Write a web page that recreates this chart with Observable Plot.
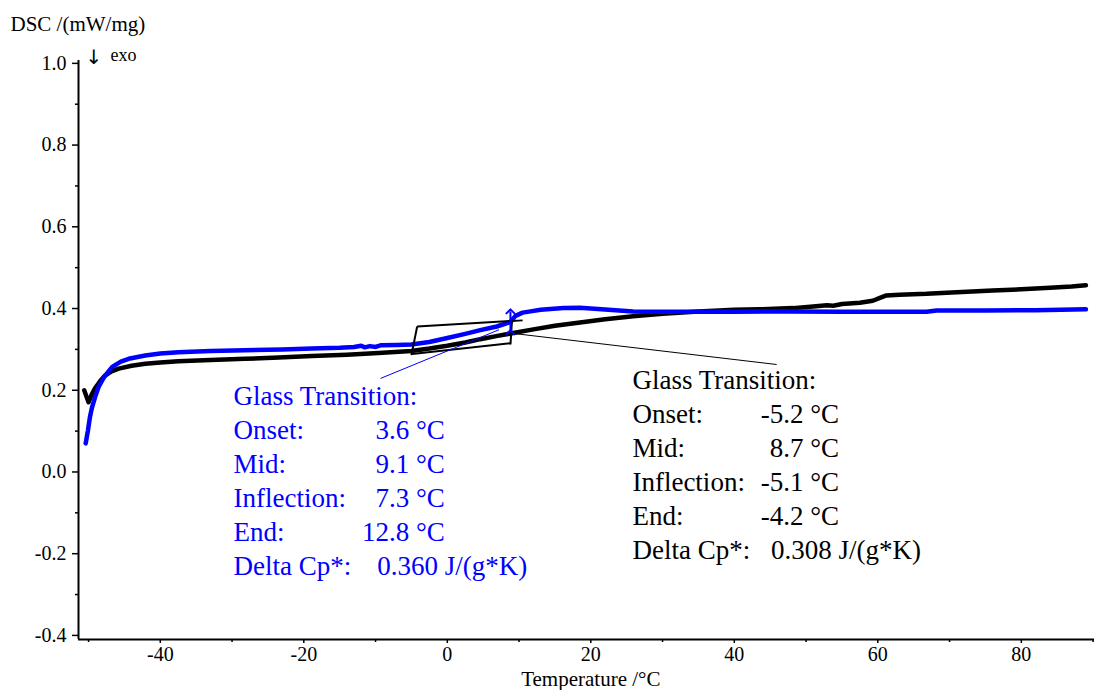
<!DOCTYPE html>
<html><head><meta charset="utf-8">
<script src="https://cdn.jsdelivr.net/npm/d3@7"></script>
<script src="https://cdn.jsdelivr.net/npm/@observablehq/plot@0.6"></script>
<style>html,body{margin:0;padding:0;background:#fff;} svg{display:block;}</style>
</head><body><div id="chart"></div>
<script>
// ---- data ----
const blackTemp = [-50.6,-50.3,-50.0,-49.6,-49.1,-48.4,-47.7,-46.8,-45.8,-44.0,-42.1,-40.0,-37.5,-33.0,-28.2,-23.5,-18.9,-14.0,-9.6,-5.0,-2.5,0.0,2.5,4.6,7.0,9.2,12.0,15.0,18.5,22.0,25.9,30.0,35.0,40.0,43.6,48.2,51.0,52.9,53.8,55.0,57.5,59.3,60.3,61.2,63.0,66.8,71.0,76.0,80.0,84.0,87.0,89.0];
const blackDsc  = [0.200,0.185,0.171,0.188,0.205,0.222,0.236,0.246,0.253,0.260,0.265,0.268,0.271,0.274,0.277,0.280,0.284,0.287,0.291,0.296,0.302,0.309,0.317,0.325,0.333,0.340,0.349,0.358,0.366,0.374,0.381,0.387,0.393,0.397,0.398,0.401,0.405,0.408,0.407,0.411,0.414,0.419,0.426,0.432,0.434,0.436,0.440,0.444,0.447,0.451,0.454,0.457];

const blueTemp = [-50.4,-50.1,-49.8,-49.5,-49.0,-48.6,-47.8,-46.7,-45.5,-44.4,-42.1,-40.0,-37.5,-33.0,-28.2,-23.0,-18.9,-15.0,-13.0,-12.0,-11.5,-10.8,-10.0,-9.3,-7.0,-5.0,-2.5,0.0,2.5,4.6,6.9,8.8,9.5,10.5,11.6,13.0,16.2,18.5,21.0,25.9,30.0,34.8,40.0,47.8,55.0,66.8,68.2,75.0,82.0,89.0];
const blueDsc  = [0.070,0.100,0.135,0.159,0.188,0.208,0.233,0.257,0.270,0.277,0.285,0.290,0.293,0.296,0.298,0.300,0.302,0.304,0.306,0.309,0.305,0.308,0.306,0.310,0.311,0.312,0.318,0.328,0.338,0.347,0.356,0.367,0.382,0.390,0.393,0.397,0.401,0.402,0.399,0.393,0.392,0.392,0.392,0.393,0.392,0.392,0.395,0.395,0.396,0.398];

// glass-transition construction lines (data units)
const blackConstruction = [
  {x1:-4.9, y1:0.289, x2:8.8,  y2:0.315},
  {x1:-4.2, y1:0.356, x2:10.5, y2:0.371},
  {x1:-5.0, y1:0.286, x2:-4.2, y2:0.356},
  {x1:8.8,  y1:0.312, x2:9.0,  y2:0.367}
];
const blackLeader = [{x1:9.2, y1:0.339, x2:45.9, y2:0.263}];
const blueMarker = [{x1:8.8, y1:0.342, x2:8.8, y2:0.393}];
const blueLeader = [{x1:-9.3, y1:0.229, x2:7.2, y2:0.348}];

const blueLabels = ["Glass Transition:", "Onset:", "Mid:", "Inflection:", "End:", "Delta Cp*:"];
const blueValues = ["3.6 °C", "9.1 °C", "7.3 °C", "12.8 °C"];
const blueCp = ["0.360 J/(g*K)"];
const blackLabels = ["Glass Transition:", "Onset:", "Mid:", "Inflection:", "End:", "Delta Cp*:"];
const blackValues = ["-5.2 °C", "8.7 °C", "-5.1 °C", "-4.2 °C"];
const blackCp = ["0.308 J/(g*K)"];

const xMajorTicks = [-40,-20,0,20,40,60,80];
const xMinorTicks = [-50,-30,-10,10,30,50,70,90];
const yMajorTicks = [-0.4,-0.2,0.0,0.2,0.4,0.6,0.8,1.0];
const yMinorTicks = [-0.3,-0.1,0.1,0.3,0.5,0.7,0.9];

// ---- build ----
const black = blackTemp.map((t,i) => ({t, v: blackDsc[i]}));
const blue = blueTemp.map((t,i) => ({t, v: blueDsc[i]}));

const X0 = -51.4, X1 = 90.2, Y0 = -0.41, Y1 = 1.007;
const pitch = 34 / 408.6;
const BLUE = "#0000ff";
const ann = 27;

const plot = Plot.plot({
  width: 1094, height: 690,
  marginLeft: 78, marginRight: 0, marginTop: 60, marginBottom: 51,
  x: {domain: [X0, X1]},
  y: {domain: [Y0, Y1]},
  style: {fontFamily: "'Liberation Serif','Times New Roman',serif", fontSize: "20px", background: "#fff", color: "#000"},
  marks: [
    Plot.axisX(xMajorTicks, {tickSize: 4, tickPadding: 3, tickFormat: d => String(d), label: null, strokeWidth: 1.5, fontSize: 20}),
    Plot.axisX(xMinorTicks, {tickSize: 3, tickFormat: () => "", label: null, strokeWidth: 1.5}),
    Plot.axisY(yMajorTicks, {tickSize: 6, tickPadding: 6, tickFormat: d => d.toFixed(1), label: null, strokeWidth: 1.5, fontSize: 20}),
    Plot.axisY(yMinorTicks, {tickSize: 3, tickFormat: () => "", label: null, strokeWidth: 1.5}),
    Plot.ruleX([X0], {strokeWidth: 2}),
    Plot.ruleY([Y0], {strokeWidth: 2}),
    Plot.line(black, {x: "t", y: "v", stroke: "black", strokeWidth: 4.5}),
    Plot.line(blue, {x: "t", y: "v", stroke: BLUE, strokeWidth: 4.5}),
    Plot.link(blackConstruction, {x1: "x1", y1: "y1", x2: "x2", y2: "y2", stroke: "black", strokeWidth: 2}),
    Plot.link(blackLeader, {x1: "x1", y1: "y1", x2: "x2", y2: "y2", stroke: "black", strokeWidth: 1}),
    Plot.link(blueMarker, {x1: "x1", y1: "y1", x2: "x2", y2: "y2", stroke: BLUE, strokeWidth: 2, markerStart: "arrow", markerEnd: "arrow"}),
    Plot.link(blueLeader, {x1: "x1", y1: "y1", x2: "x2", y2: "y2", stroke: BLUE, strokeWidth: 1}),
    // blue annotation
    Plot.text(blueLabels, {x: () => -29.8, y: (d, i) => 0.163 - i * pitch, text: d => d, textAnchor: "start", lineAnchor: "bottom", fill: BLUE, fontSize: ann}),
    Plot.text(blueValues, {x: () => -0.36, y: (d, i) => 0.163 - (i + 1) * pitch, text: d => d, textAnchor: "end", lineAnchor: "bottom", fill: BLUE, fontSize: ann}),
    Plot.text(blueCp, {x: () => -9.75, y: () => 0.163 - 5 * pitch, text: d => d, textAnchor: "start", lineAnchor: "bottom", fill: BLUE, fontSize: ann}),
    // black annotation
    Plot.text(blackLabels, {x: () => 25.8, y: (d, i) => 0.202 - i * pitch, text: d => d, textAnchor: "start", lineAnchor: "bottom", fill: "black", fontSize: ann}),
    Plot.text(blackValues, {x: () => 54.6, y: (d, i) => 0.202 - (i + 1) * pitch, text: d => d, textAnchor: "end", lineAnchor: "bottom", fill: "black", fontSize: ann}),
    Plot.text(blackCp, {x: () => 45.1, y: () => 0.202 - 5 * pitch, text: d => d, textAnchor: "start", lineAnchor: "bottom", fill: "black", fontSize: ann}),
    // axis titles
    Plot.text(["DSC /(mW/mg)"], {frameAnchor: "top-left", dx: -68, dy: -30, textAnchor: "start", lineAnchor: "bottom", fontSize: 21}),
    Plot.text(["↓"], {frameAnchor: "top-left", dx: 7, dy: 3, textAnchor: "start", lineAnchor: "bottom", fontSize: 20, fontFamily: "'DejaVu Sans'"}),
    Plot.text(["exo"], {frameAnchor: "top-left", dx: 32, dy: 0, textAnchor: "start", lineAnchor: "bottom", fontSize: 18, letterSpacing: "1px"}),
    Plot.text(["Temperature /°C"], {x: () => 20, frameAnchor: "bottom", dy: 46, textAnchor: "middle", lineAnchor: "bottom", fontSize: 21})
  ]
});
document.getElementById("chart").appendChild(plot);
</script>
</body></html>
